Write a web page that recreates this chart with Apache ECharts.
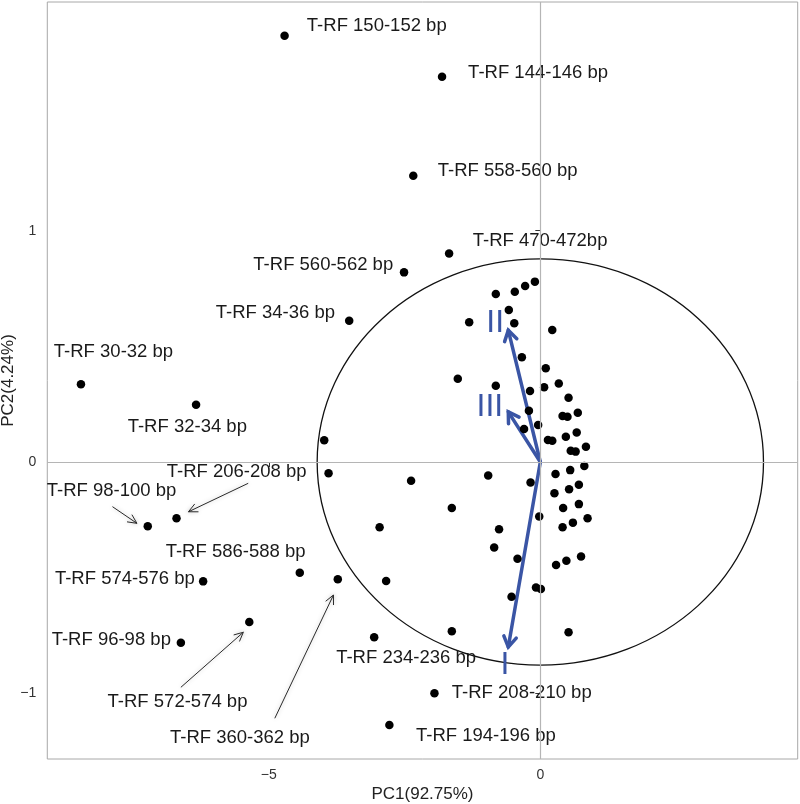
<!DOCTYPE html>
<html><head><meta charset="utf-8">
<script src="https://cdn.jsdelivr.net/npm/echarts@6/dist/echarts.min.js"></script>
<style>html,body{margin:0;padding:0;background:#fff}#c{width:800px;height:804px}</style>
</head><body><div id="c"></div>
<script>
// Labelled T-RF points (PC1, PC2)
const labelNames = [
  'T-RF 150-152 bp','T-RF 144-146 bp','T-RF 558-560 bp','T-RF 470-472bp','T-RF 560-562 bp',
  'T-RF 34-36 bp','T-RF 30-32 bp','T-RF 32-34 bp','T-RF 206-208 bp','T-RF 98-100 bp',
  'T-RF 586-588 bp','T-RF 574-576 bp','T-RF 360-362 bp','T-RF 572-574 bp','T-RF 96-98 bp',
  'T-RF 234-236 bp','T-RF 208-210 bp','T-RF 194-196 bp'
];
const labeledPoints = [
  [-4.71,1.843],[-1.81,1.666],[-2.34,1.238],[-1.68,0.902],[-2.51,0.820],
  [-3.52,0.611],[-8.46,0.336],[-6.34,0.248],[-6.70,-0.243],[-7.23,-0.278],
  [-4.43,-0.479],[-6.21,-0.516],[-3.73,-0.507],[-5.36,-0.692],[-6.62,-0.781],
  [-3.06,-0.758],[-1.95,-1.000],[-2.78,-1.137]
];
// text anchor of each label (PC1, PC2, horizontal alignment)
const labelAnchors = [
  [-4.30,1.885,'left'],[-1.33,1.682,'left'],[-1.89,1.259,'left'],[-1.245,0.957,'left'],[-2.71,0.852,'right'],
  [-3.78,0.645,'right'],[-8.96,0.476,'left'],[-7.60,0.153,'left'],[-6.88,-0.042,'left'],[-9.09,-0.124,'left'],
  [-6.90,-0.388,'left'],[-8.94,-0.507,'left'],[-6.82,-1.192,'left'],[-7.97,-1.036,'left'],[-9.00,-0.767,'left'],
  [-3.76,-0.846,'left'],[-1.63,-1.000,'left'],[-2.29,-1.185,'left']
];
// Unlabelled T-RF points
const otherPoints = [
  [-3.98,0.094],[-3.90,-0.049],[-2.84,-0.514],[-2.96,-0.282],[-2.38,-0.081],[-0.96,-0.058],
  [-0.18,-0.089],[-1.63,-0.199],[-0.76,-0.291],[-0.85,-0.370],[-0.42,-0.418],[-0.02,-0.236],
  [-0.53,-0.582],[-0.08,-0.543],[0.01,-0.549],[-1.63,-0.732],[0.52,-0.736],
  [0.28,-0.052],[0.55,-0.035],[0.81,-0.017],[0.26,-0.135],[0.53,-0.118],[0.71,-0.098],
  [0.42,-0.199],[0.71,-0.182],[0.41,-0.282],[0.60,-0.262],[0.87,-0.243],[0.29,-0.445],
  [0.48,-0.427],[0.75,-0.408],
  [-0.21,0.222],[-0.30,0.143],[-0.04,0.160],[0.14,0.095],[0.22,0.092],[0.41,0.199],
  [0.50,0.196],[0.69,0.213],[0.47,0.109],[0.67,0.128],[0.56,0.049],[0.65,0.045],[0.84,0.066],
  [-0.10,0.780],[-0.28,0.761],[-0.47,0.736],[-0.82,0.726],[-0.58,0.657],[-1.31,0.604],
  [-0.48,0.600],[0.22,0.571],[-0.34,0.453],[0.10,0.405],[-1.52,0.360],[-0.82,0.330],
  [-0.19,0.307],[0.07,0.323],[0.34,0.340],[0.52,0.278]
];
// Loading vectors (samples I, II, III)
const vectorNames = ['I','II','III'];
const vectorEnds = [[-0.59,-0.80],[-0.59,0.57],[-0.59,0.217]];
const vectorLabelPos = [[-0.65,-0.878],[-0.83,0.601],[-0.93,0.239]];
// Callout arrows: from (x1,y1) to (x2,y2)
const calloutArrows = [
  [-5.38,-0.092,-6.48,-0.215],
  [-7.88,-0.193,-7.43,-0.265],
  [-6.62,-0.974,-5.47,-0.736],
  [-4.89,-1.108,-3.81,-0.575]
];
// Circle: centre and radii in data units
const circleSpec = [[0,0,4.11,0.878]];
const xTicks = [-5,0];
const yTicks = [-1,0,1];
const xTitle = 'PC1(92.75%)';
const yTitle = 'PC2(4.24%)';

const FONT = '"Liberation Sans", Arial, Helvetica, sans-serif';
const BLUE = '#3a55a5';
const fmt = v => v < 0 ? '\u2212' + Math.abs(v) : String(v);

function chevron(p1, p2, len, ang) {
  const a = Math.atan2(p2[1]-p1[1], p2[0]-p1[0]);
  return [
    [p2[0] - len*Math.cos(a-ang), p2[1] - len*Math.sin(a-ang)],
    [p2[0], p2[1]],
    [p2[0] - len*Math.cos(a+ang), p2[1] - len*Math.sin(a+ang)]
  ];
}

const chart = echarts.init(document.getElementById('c'), null, {renderer:'canvas'});
chart.setOption({
  animation: false,
  backgroundColor: '#fff',
  grid: {left: 47.3, top: 2, right: 2.3, bottom: 45, containLabel: false, outerBoundsMode: 'none',
    show: true, borderColor: '#a8a8a8', borderWidth: 1, backgroundColor: 'transparent'},
  xAxis: {
    type: 'value', min: -9.08, max: 4.74,
    name: xTitle, nameLocation: 'middle', nameGap: 27, nameMoveOverlap: false,
    nameTextStyle: {fontFamily: FONT, fontSize: 17, color: '#222', verticalAlign: 'top'},
    axisLine: {show: false},
    axisTick: {show: true, length: 5, lineStyle: {color: '#333'}, customValues: xTicks},
    axisLabel: {fontFamily: FONT, fontSize: 14, color: '#333', margin: 9, customValues: xTicks, formatter: fmt},
    splitLine: {show: false}
  },
  yAxis: {
    type: 'value', min: -1.284, max: 1.989,
    name: yTitle, nameLocation: 'middle', nameGap: 30, nameMoveOverlap: false,
    nameTextStyle: {fontFamily: FONT, fontSize: 17, color: '#222'},
    axisLine: {show: false},
    axisTick: {show: true, length: 5, lineStyle: {color: '#333'}, customValues: yTicks},
    axisLabel: {fontFamily: FONT, fontSize: 14, color: '#333', margin: 11, customValues: yTicks, formatter: fmt},
    splitLine: {show: false}
  },
  series: [
    {
      type: 'line', data: [], silent: true,
      markLine: {
        silent: true, symbol: ['none','none'], label: {show: false},
        lineStyle: {color: '#b5b5b5', width: 1.2, type: 'solid'},
        data: [{xAxis: 0}, {yAxis: 0}]
      }
    },
    {
      type: 'custom', silent: true, clip: false, data: circleSpec,
      renderItem: function (params, api) {
        const c = api.coord([api.value(0), api.value(1)]);
        const s = api.size([api.value(2), api.value(3)]);
        return {type: 'ellipse', shape: {cx: c[0], cy: c[1], rx: s[0], ry: s[1]},
          style: {fill: 'none', stroke: '#111', lineWidth: 1.3}};
      }
    },
    {
      type: 'scatter', symbol: 'circle', symbolSize: 8.5, silent: true,
      itemStyle: {color: '#000', opacity: 1}, data: otherPoints
    },
    {
      type: 'scatter', symbol: 'circle', symbolSize: 8.5, silent: true,
      itemStyle: {color: '#000', opacity: 1}, data: labeledPoints
    },
    {
      type: 'custom', silent: true, clip: false,
      data: labelAnchors.map((a, i) => [a[0], a[1], i]),
      renderItem: function (params, api) {
        const i = api.value(2);
        const p = api.coord([api.value(0), api.value(1)]);
        return {type: 'text', x: p[0], y: p[1],
          style: {text: labelNames[i], fill: '#1a1a1a', font: '18.5px ' + FONT,
            align: labelAnchors[i][2], verticalAlign: 'middle'}};
      }
    },
    {
      type: 'custom', silent: true, clip: false, data: calloutArrows,
      renderItem: function (params, api) {
        const p1 = api.coord([api.value(0), api.value(1)]);
        const p2 = api.coord([api.value(2), api.value(3)]);
        const st = {stroke: '#2a2a2a', lineWidth: 1, fill: 'none', shadowBlur: 4, shadowColor: 'rgba(0,0,0,0.25)'};
        return {type: 'group', children: [
          {type: 'line', shape: {x1: p1[0], y1: p1[1], x2: p2[0], y2: p2[1]}, style: st},
          {type: 'polyline', shape: {points: chevron(p1, p2, 10, 0.45)}, style: st}
        ]};
      }
    },
    {
      type: 'custom', silent: true, clip: false, data: vectorEnds,
      renderItem: function (params, api) {
        const p1 = api.coord([0, 0]);
        const p2 = api.coord([api.value(0), api.value(1)]);
        const st = {stroke: BLUE, lineWidth: 3.5, fill: 'none', lineCap: 'round', lineJoin: 'miter'};
        return {type: 'group', children: [
          {type: 'line', shape: {x1: p1[0], y1: p1[1], x2: p2[0], y2: p2[1]}, style: st},
          {type: 'polyline', shape: {points: chevron(p1, p2, 12, 0.55)}, style: st}
        ]};
      }
    },
    {
      type: 'custom', silent: true, clip: false,
      data: vectorLabelPos.map((a, i) => [a[0], a[1], i]),
      renderItem: function (params, api) {
        const i = api.value(2);
        const p = api.coord([api.value(0), api.value(1)]);
        return {type: 'text', x: p[0], y: p[1],
          style: {text: vectorNames[i], fill: BLUE, font: '32px ' + FONT,
            align: 'center', verticalAlign: 'middle'}};
      }
    }
  ]
});
</script>
</body></html>
